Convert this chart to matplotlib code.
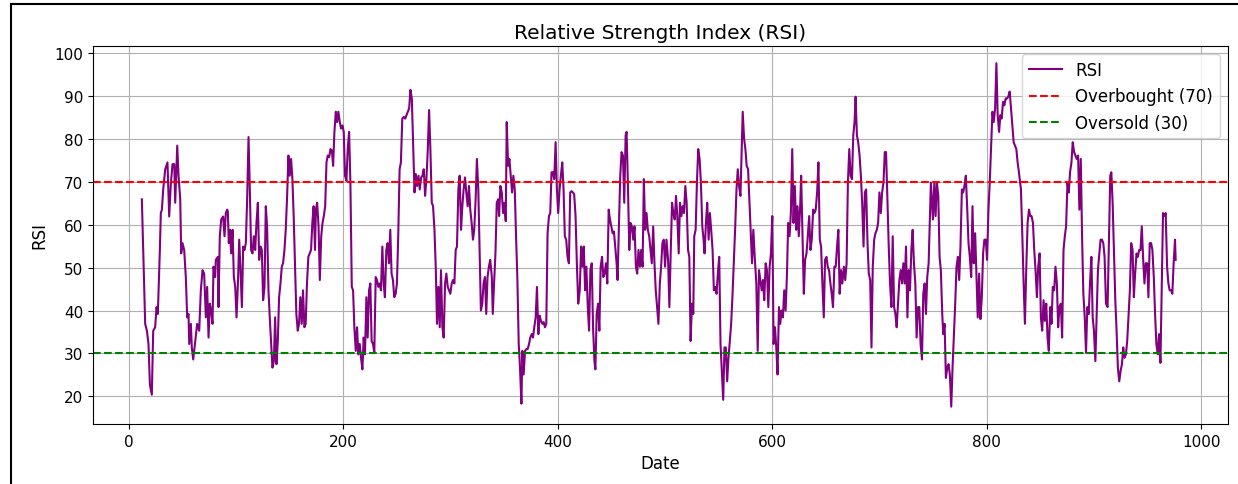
import matplotlib
matplotlib.use("Agg")
import matplotlib.pyplot as plt
from matplotlib.lines import Line2D

# values (day index, RSI)
day = [
    12.1, 15.2, 16.8, 18.3, 19.6, 21.4, 22.7, 24.5, 25.8, 27.0, 28.9, 29.8, 30.8, 32.0, 33.9, 36.0,
    37.6, 39.2, 40.7, 42.3, 43.2, 45.1, 46.3, 47.9, 48.8, 50.0, 51.6, 53.1, 54.4, 55.6, 56.3, 57.8,
    58.7, 60.0, 61.9, 63.7, 65.6, 67.1, 68.7, 70.2, 71.8, 73.0, 74.3, 75.5, 76.7, 78.0, 78.9, 80.5,
    81.1, 83.0, 83.6, 84.8, 86.1, 87.9, 89.2, 90.4, 91.7,
    92.3, 93.2, 94.2, 95.4, 96.7, 97.9, 99.2, 100.4, 101.7, 102.9, 104.1, 105.4, 106.6, 107.8, 109.1,
    110.3, 111.6, 112.8, 114.0, 115.3, 116.5, 117.8, 119.0, 120.3, 121.5, 122.8, 124.0, 125.2, 126.5,
    127.7, 128.9, 130.2, 131.4, 132.7, 133.9, 135.2, 136.4, 137.6, 138.9, 140.1, 141.4, 142.6, 143.8,
    145.1, 146.3, 147.6, 148.8, 150.0, 151.3, 152.5, 153.7, 155.0, 156.2, 157.5, 158.7, 159.9, 161.2,
    162.4, 163.7, 164.9, 166.1, 167.4, 168.6, 169.9, 171.1, 172.3, 173.6,
    174.4, 175.6, 176.9, 178.1, 179.4, 180.6, 181.8, 183.1, 184.3, 185.5, 186.8, 188.0, 189.3, 190.5,
    191.7, 193.0, 194.2, 195.4, 196.7, 197.9, 199.2, 200.4, 201.6, 202.9, 204.1, 205.4, 206.6, 207.9,
    209.1, 210.3, 211.6, 212.8, 214.0, 215.3, 216.5, 217.8, 219.0, 220.2, 221.5, 222.7, 224.0, 225.2,
    226.4, 227.7, 228.9, 230.2, 231.4, 232.6, 233.9, 235.1, 236.4, 237.6, 238.8, 240.1, 241.3, 242.6,
    243.8, 245.0, 246.3, 247.5, 248.8, 250.0, 251.2, 252.5, 253.7, 255.0,
    256.4, 257.7, 258.9, 260.1, 261.4, 262.6, 263.9, 265.1, 266.4, 267.6, 268.8, 270.1, 271.3, 272.6,
    273.8, 275.0, 276.3, 277.5, 278.8, 280.0, 281.2, 282.5, 283.7, 285.0, 286.2, 287.4, 288.7, 289.9,
    291.1, 292.4, 293.6, 294.9, 296.1, 297.4, 298.6, 299.8, 301.1, 302.3, 303.6, 304.8, 306.0, 307.3,
    308.5, 309.8, 311.0, 312.2, 313.5, 314.7, 316.0, 317.2, 318.4, 319.7, 320.9, 322.1, 323.4, 324.6,
    325.9, 327.1, 328.3, 329.6, 330.8, 332.1, 333.3, 334.5, 335.8, 337.0,
    338.5, 339.4, 340.6, 341.9, 343.1, 344.4, 345.3, 346.5, 347.8, 349.0, 350.2, 351.5, 352.4, 353.7,
    354.9, 356.1, 357.4, 358.6, 359.9, 361.1, 362.3, 363.6, 364.8, 366.1, 367.0, 368.2, 369.5, 370.7,
    371.9, 373.2, 374.4, 375.7, 376.9, 378.1, 379.4, 380.6, 381.9, 383.1, 384.3, 385.6, 386.8, 388.1,
    389.3, 390.5, 391.8, 393.0, 394.2, 395.5, 396.7, 398.0, 399.2, 400.4, 401.7, 402.9, 404.2, 405.4,
    406.6, 407.9, 409.1, 410.4, 411.6, 412.9, 414.1, 415.3, 416.6, 417.8, 419.1,
    420.5, 421.8, 423.0, 424.3, 425.5, 426.7, 428.0, 429.2, 430.4, 431.7, 432.9, 434.2, 435.1, 436.3,
    437.6, 438.8, 440.0, 441.3, 442.5, 443.7, 445.0, 446.2, 447.5, 448.7, 449.9, 451.2, 452.4, 453.6,
    454.9, 455.8, 457.1, 458.3, 459.5, 460.8, 462.0, 463.3, 464.2, 465.4, 466.7, 467.9, 469.1, 470.4,
    471.6, 472.9, 474.1, 475.3, 476.6, 477.8, 479.1, 480.3, 481.5, 482.8, 484.0, 485.3, 486.5, 487.7,
    489.0, 490.2, 491.4, 492.7, 493.9, 495.2, 496.4, 497.6, 498.9, 500.1, 501.4,
    502.9, 504.1, 505.4, 506.6, 507.8, 509.1, 510.3, 511.5, 512.8, 514.0, 515.3, 516.5, 517.7, 519.0,
    520.2, 521.5, 522.7, 523.9, 525.2, 526.4, 527.3, 528.6, 529.8, 531.0, 532.3, 533.5, 534.8, 536.0,
    536.9, 538.2, 539.4, 540.7, 541.9, 543.1, 544.4, 545.6, 546.8, 548.1, 549.3, 550.6, 551.8, 553.0,
    554.3, 555.5, 556.7, 558.0, 559.2, 560.5, 561.7, 562.9, 564.2, 565.4, 566.7, 567.9, 569.1, 570.4,
    571.6, 572.5, 573.8, 575.0, 576.2, 577.5, 578.7, 580.0, 581.2, 582.4, 583.7,
    585.2, 586.5, 587.7, 588.9, 590.2, 591.4, 592.6, 593.9, 595.1, 596.4, 597.6, 598.8, 600.1, 601.3,
    602.6, 603.8, 605.0, 606.3, 607.5, 608.7, 610.0, 611.2, 612.5, 613.7, 614.9, 616.2, 617.4, 618.7,
    619.9, 621.1, 622.4, 623.6, 624.8, 626.1, 627.0, 628.3, 629.5, 630.7, 632.0, 633.2, 634.5, 635.7,
    636.9, 638.2, 639.4, 640.6, 641.9, 643.1, 644.4, 645.6, 646.8, 648.1, 649.3, 650.6, 651.8, 653.0,
    654.3, 655.5, 656.7, 658.0, 659.2, 660.5, 661.7, 662.9, 664.2, 665.4,
    666.9, 668.1, 669.4, 670.6, 671.9, 673.1, 674.4, 675.6, 676.8, 677.8, 679.0, 680.2, 681.5, 682.7,
    683.9, 685.2, 686.4, 687.6, 688.9, 690.1, 691.4, 692.6, 693.8, 695.1, 696.3, 697.6, 698.8, 700.0,
    701.3, 702.5, 703.8, 705.0, 706.2, 707.5, 708.7, 709.9, 711.2, 712.4, 713.7, 714.9, 716.1, 717.4,
    718.6, 719.9, 721.1, 722.3, 723.6, 724.8, 726.1, 727.3, 728.5, 729.8, 731.0, 732.2, 733.5, 734.7,
    736.0, 737.2, 738.4, 739.7, 740.9, 742.2, 743.4, 744.6, 745.9, 747.1, 748.0,
    749.9, 751.2, 752.4, 753.6, 754.9, 756.1, 757.3, 758.6, 759.5, 760.8, 762.0, 763.3, 764.5, 765.7,
    767.0, 768.2, 769.4, 770.7, 771.9, 773.2, 774.4, 775.6, 776.9, 778.1, 779.3, 780.6, 781.8, 783.1,
    784.3, 785.6, 786.8, 788.0, 789.3, 790.5, 791.7, 793.0, 794.2, 795.5, 796.7, 797.9, 799.2, 800.4,
    801.7, 802.9, 804.1, 805.4, 806.6, 807.9, 809.1, 810.3, 811.6, 812.8, 814.0, 815.3, 816.5, 817.8,
    819.0, 820.2, 821.5, 822.7, 824.0, 825.2, 826.4, 827.7, 828.9, 830.1,
    832.0, 833.3, 834.5, 835.7, 837.0, 838.2, 839.5, 840.7, 841.9, 843.2, 844.4, 845.6, 846.9, 848.1,
    849.4, 850.6, 851.8, 853.1, 854.3, 855.6, 856.8, 858.0, 859.3, 860.5, 861.7, 863.0, 864.2, 865.5,
    866.7, 867.9, 869.2, 870.4, 871.7, 872.9, 874.1, 875.4, 876.6, 877.8, 879.1, 880.3, 881.6, 882.8,
    884.0, 885.3, 886.5, 887.8, 889.0, 890.2, 891.5, 892.7, 893.9, 895.2, 896.4, 897.7, 898.9, 900.1,
    901.4, 902.6, 903.8, 905.1, 906.3, 907.6, 908.8, 910.0, 911.3,
    912.8, 914.1, 915.3, 916.3, 917.5, 918.7, 920.0, 921.2, 922.4, 923.7, 924.9, 926.2, 927.4, 928.6,
    929.9, 931.1, 932.3, 933.6, 934.8, 936.1, 937.3, 938.5, 939.8, 941.0, 942.3, 943.5, 944.7, 946.0,
    947.2, 948.4, 949.7, 950.9, 952.1, 953.4, 954.6, 955.9, 957.1, 958.3, 959.6, 960.8, 962.1, 963.3,
    964.5, 965.8, 967.0, 968.3, 969.5, 970.7, 972.0, 973.2, 974.4, 975.7, 976.3,
]

rsi = [
    65.9, 36.9, 35.3, 32.2, 22.7, 20.4, 35.3, 36.1, 40.8, 39.2, 54.1, 62.7, 63.5, 68.2, 72.9, 74.5,
    61.9, 69.8, 74.1, 74.1, 65.1, 78.4, 71.4, 65.9, 53.3, 55.7, 54.1, 47.8, 38.4, 39.2, 32.2, 36.9,
    31.4, 28.6, 32.9, 36.9, 35.3, 44.7, 49.4, 48.6, 38.4, 45.5, 33.7, 41.6, 40.0, 36.9, 50.2, 47.8,
    51.8, 52.5, 40.8, 57.3, 61.2, 61.9, 57.3, 62.7, 63.5,
    63.1, 55.7, 58.8, 53.3, 58.8, 47.8, 45.5, 38.4, 46.3, 56.5, 49.4, 40.8, 54.9, 54.1, 55.7,
    65.9, 80.4, 68.2, 54.1, 53.3, 57.3, 54.1, 60.4, 65.1, 51.8, 54.9, 54.1, 42.4, 45.5,
    64.3, 59.6, 44.7, 38.4, 32.2, 26.7, 28.2, 38.4, 27.5, 32.9, 43.1, 46.3, 50.2, 51.0,
    54.1, 58.8, 66.7, 76.1, 71.4, 75.3, 70.6, 62.0, 50.2, 39.2, 35.3, 36.9, 43.1, 36.9,
    44.7, 36.1, 36.9, 46.3, 52.5, 53.3, 54.1, 60.4, 64.3, 54.1,
    63.5, 65.1, 59.6, 47.1, 57.3, 60.4, 62.0, 64.3, 74.5, 76.1, 75.7, 77.6, 77.3, 73.7,
    81.6, 86.3, 83.9, 86.3, 83.9, 82.4, 83.1, 81.6, 71.4, 70.2, 77.6, 81.6, 69.8, 45.5,
    44.7, 36.1, 30.6, 36.1, 29.8, 32.2, 29.0, 26.3, 33.7, 29.8, 43.1, 33.7, 44.7, 46.3,
    32.9, 32.2, 30.2, 47.8, 47.1, 45.5, 46.3, 44.7, 54.9, 46.3, 43.1, 54.1, 55.7, 51.0,
    58.8, 48.6, 47.1, 43.1, 43.9, 46.3, 57.3, 72.9, 74.5, 84.7,
    85.1, 84.7, 85.5, 86.3, 87.1, 91.4, 89.4, 79.2, 67.5, 71.8, 69.0, 71.4, 68.2, 71.0,
    71.4, 72.9, 66.7, 70.6, 77.6, 86.7, 77.6, 65.1, 64.3, 58.8, 50.2, 36.9, 45.5, 36.1,
    49.4, 36.1, 33.7, 46.3, 48.6, 45.5, 44.7, 43.9, 46.3, 47.1, 46.3, 54.1, 54.9, 68.2,
    71.4, 58.8, 64.3, 68.2, 71.0, 67.5, 64.3, 69.0, 63.5, 60.4, 56.5, 58.8, 65.9, 75.3,
    68.2, 54.1, 40.0, 41.6, 46.3, 47.8, 39.2, 47.8, 50.2, 51.8,
    47.8, 39.2, 46.3, 53.3, 65.1, 65.9, 62.0, 69.0, 67.5, 62.7, 65.1, 60.8, 83.9, 73.7,
    75.3, 71.4, 67.5, 71.4, 68.2, 57.3, 47.8, 32.2, 26.7, 18.3, 30.6, 25.1, 30.6, 31.0,
    31.0, 32.2, 33.7, 34.5, 33.7, 36.1, 38.4, 45.5, 34.5, 38.8, 37.6, 36.9, 37.3, 36.1,
    36.9, 58.0, 62.0, 62.7, 72.2, 72.2, 70.6, 79.2, 68.2, 62.7, 68.2, 71.4, 74.5, 68.2,
    57.3, 56.5, 52.5, 51.0, 67.5, 67.8, 67.5, 67.1, 62.0, 51.0, 41.6,
    44.7, 54.9, 50.2, 54.9, 44.7, 50.2, 40.8, 35.3, 49.4, 51.0, 36.1, 28.2, 26.3, 39.2,
    41.6, 35.3, 50.2, 52.5, 47.8, 48.6, 51.0, 46.3, 63.5, 61.2, 59.6, 58.0, 58.4, 54.9,
    51.0, 47.1, 60.4, 71.4, 76.9, 76.1, 65.1, 80.8, 81.6, 69.8, 54.1, 60.4, 59.6, 56.5,
    59.6, 50.2, 48.6, 54.1, 50.2, 54.1, 50.2, 70.6, 58.8, 62.7, 58.8, 57.3, 54.1, 51.0,
    59.6, 51.0, 44.7, 40.8, 36.9, 46.3, 50.2, 55.7, 56.5, 50.2, 56.5,
    51.8, 40.8, 54.1, 65.1, 62.7, 61.2, 66.7, 62.0, 53.3, 65.1, 62.0, 64.3, 62.7, 69.0,
    65.1, 54.1, 52.5, 32.9, 41.6, 39.2, 57.3, 58.8, 69.8, 77.6, 75.3, 69.8, 59.6, 56.5,
    53.3, 60.4, 65.1, 56.5, 62.7, 58.8, 54.1, 44.7, 45.5, 43.9, 48.6, 52.5, 32.2, 25.9,
    19.2, 31.4, 31.4, 23.5, 29.0, 32.9, 36.9, 43.1, 51.0, 58.8, 68.2, 72.9, 69.0, 66.7,
    77.6, 86.3, 80.0, 77.6, 73.7, 72.9, 65.9, 58.8, 51.0, 58.8, 52.5,
    46.3, 30.6, 49.4, 47.1, 44.7, 47.1, 42.4, 51.0, 49.4, 40.8, 50.2, 53.3, 62.0, 32.2,
    36.1, 31.4, 25.1, 40.8, 36.9, 40.0, 38.4, 44.7, 40.0, 47.8, 60.4, 57.3, 62.7, 77.6,
    60.4, 69.0, 58.8, 64.3, 57.3, 64.3, 71.4, 57.3, 43.9, 51.8, 53.3, 57.3, 62.0, 54.1,
    56.5, 63.5, 62.7, 63.5, 67.5, 74.5, 56.5, 54.9, 46.3, 38.4, 51.8, 52.5, 50.2, 49.4,
    46.3, 43.9, 40.8, 50.2, 50.2, 54.9, 58.8, 43.9, 49.4, 46.3,
    50.2, 47.1, 51.0, 69.8, 77.6, 71.4, 70.6, 80.8, 83.9, 89.8, 80.8, 79.2, 76.1, 71.4,
    65.1, 54.9, 67.5, 68.2, 55.7, 48.6, 47.1, 31.4, 50.2, 56.5, 58.0, 58.8, 60.4, 67.5,
    62.7, 67.5, 69.8, 76.9, 76.9, 65.1, 54.9, 46.3, 40.8, 57.3, 40.8, 39.2, 36.1, 41.6,
    47.1, 49.4, 46.3, 51.0, 46.3, 54.9, 38.4, 49.4, 44.7, 54.1, 58.8, 51.0, 46.3, 33.7,
    40.8, 40.8, 32.2, 28.6, 43.9, 46.3, 39.2, 47.8, 51.0, 62.0, 69.8,
    61.2, 69.8, 62.0, 69.8, 66.7, 52.5, 49.4, 39.2, 34.5, 36.9, 24.3, 26.7, 27.5, 25.1,
    17.6, 26.7, 33.7, 41.6, 50.2, 52.5, 47.1, 54.9, 68.2, 67.5, 69.0, 71.4, 64.3, 55.7,
    52.5, 47.8, 64.3, 51.0, 58.0, 47.8, 38.4, 48.6, 38.0, 43.1, 53.3, 56.5, 56.5, 51.8,
    63.5, 69.8, 77.6, 86.3, 83.9, 87.1, 97.6, 85.5, 81.6, 85.5, 84.7, 88.6, 87.8, 89.4,
    89.4, 89.8, 91.0, 87.1, 83.1, 79.2, 78.4, 77.6, 74.5, 72.2,
    68.2, 57.3, 46.3, 36.9, 50.2, 60.4, 63.5, 62.0, 62.0, 60.4, 54.1, 49.4, 43.1, 50.2,
    53.3, 38.4, 35.3, 42.4, 37.6, 41.6, 33.7, 30.6, 40.8, 36.9, 45.5, 44.7, 50.2, 46.3,
    36.1, 40.8, 41.6, 33.7, 54.1, 57.3, 59.6, 69.8, 67.5, 72.2, 74.5, 79.2, 76.9, 76.1,
    75.3, 76.1, 63.5, 75.3, 57.3, 43.9, 38.4, 30.2, 40.8, 39.2, 46.3, 52.5, 38.4, 35.3,
    28.2, 38.4, 49.4, 53.3, 56.5, 56.5, 55.7, 52.5, 41.6,
    40.8, 57.3, 71.4, 72.2, 65.1, 54.1, 42.4, 35.3, 26.7, 23.5, 25.9, 27.5, 31.4, 29.0,
    29.8, 32.9, 38.4, 44.7, 55.7, 54.1, 43.1, 48.6, 53.3, 52.5, 54.1, 54.1, 59.6, 51.8,
    46.3, 51.0, 51.0, 43.1, 55.7, 55.7, 54.1, 47.8, 39.2, 32.2, 29.8, 34.5, 27.8, 44.7,
    62.7, 62.0, 62.7, 50.2, 46.3, 44.7, 44.7, 43.9, 51.0, 56.5, 51.8,
]

overbought = 70
oversold = 30

fig, ax = plt.subplots(figsize=(12.38, 4.85), dpi=100)
ax.plot(day, rsi, label="RSI", color="purple")
ax.axhline(overbought, linestyle="--", color="red", label="Overbought (70)")
ax.axhline(oversold, linestyle="--", color="green", label="Oversold (30)")
ax.set_title("Relative Strength Index (RSI)", fontsize=14.5)
ax.set_xlabel("Date", fontsize=12)
ax.set_ylabel("RSI", fontsize=12)
ax.set_yticks(range(20, 101, 10))
ax.tick_params(labelsize=11)
ax.set_xlim(-33.6, 1025.2)
ax.legend(loc="upper right", fontsize=12)
ax.grid(True)
fig.subplots_adjust(left=0.075, right=0.992, top=0.903, bottom=0.124)

# screenshot frame on the left and top edges
fig.add_artist(Line2D([0.0085, 0.0085], [0, 0.99], transform=fig.transFigure, color="black", lw=1.5))
fig.add_artist(Line2D([0.0085, 1.0], [0.99, 0.99], transform=fig.transFigure, color="black", lw=1.5))

fig.savefig("out.png")
